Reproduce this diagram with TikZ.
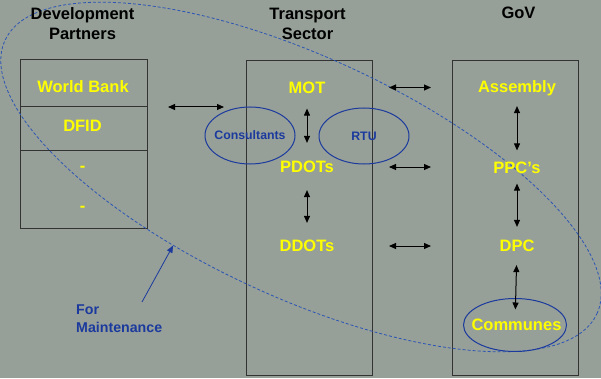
\documentclass[tikz,border=0pt]{standalone}
\usepackage{fontspec}
\setmainfont{Liberation Sans}
\usepackage{xcolor}
\usepackage{tikz}
\usetikzlibrary{arrows.meta, positioning, shapes.geometric}

\definecolor{slide}{RGB}{150,160,152}
\definecolor{ink}{RGB}{28,58,158}
\definecolor{dashink}{RGB}{45,85,180}
\definecolor{lemon}{RGB}{255,255,0}

\begin{document}
\begin{tikzpicture}[x=1pt,y=1pt,>={Triangle[length=7pt,width=6pt]},
        head/.style={font=\fontsize{16.5}{20}\selectfont\bfseries,align=center,inner sep=0pt},
        item/.style={font=\fontsize{16.5}{20}\selectfont\bfseries,text=lemon,inner sep=0pt,text height=11.8pt,text depth=0pt},
        cell/.style={draw=black!80,line width=1pt,minimum width=127pt,inner sep=0pt,outer sep=0pt},
        bubble/.style={ellipse,draw=ink,line width=1pt,inner sep=0pt},
        small/.style={font=\fontsize{12.3}{14}\selectfont\bfseries,text=ink,inner sep=0pt,text height=8.8pt,text depth=0pt},
        link/.style={<->,line width=1pt},]

    \fill[slide] (0,0) rectangle (601,378);
    \useasboundingbox (0,0) rectangle (601,378);

    % columns
    \node[cell, minimum height=47pt, anchor=north] (wbcell) at (83.5,318) {};
    \node[cell, minimum height=43pt, below=0pt of wbcell] (dfidcell) {};
    \node[cell, minimum height=78pt, below=0pt of dfidcell] (restcell) {};
    \node[cell, minimum width=126pt, minimum height=314pt] (ts) at (309,160) {};
    \node[cell, minimum width=126pt, minimum height=314pt] (gov) at (515,160) {};

    % maintenance loop
    \node[ellipse, draw=dashink, dash pattern=on 3pt off 2pt, line width=0.8pt, inner sep=0pt,
          minimum width=652pt, minimum height=240pt, rotate=-24.8] (loop) at (301,201) {};

    \node[head] (dphead) at (82.5,354.5) {Development\\Partners};
    \node[head] (tshead) at (307.5,354.5) {Transport\\Sector};
    \node[head] (govhead) at (518.5,365) {GoV};

    \node[item] (WB) at (83,291) {World Bank};
    \node[item] (DFID) at (82.5,252) {DFID};
    \node[item] (gapA) at (82.5,212.4) {-};
    \node[item] (gapB) at (82.5,172.4) {-};
    \node[item] (MOT) at (307,290.5) {MOT};
    \node[item] (PDOTs) at (307,211) {PDOTs};
    \node[item] (DDOTs) at (307,132) {DDOTs};
    \node[item] (Assembly) at (517,291) {Assembly};
    \node[item] (PPCs) at (517,210.5) {PPC’s};
    \node[item] (DPC) at (517,132) {DPC};

    \node[bubble, minimum width=90pt, minimum height=57pt, label={[small]center:Consultants}] (Consultants) at (250,242.5) {};
    \node[bubble, minimum width=90pt, minimum height=56pt, label={[small]center:RTU}] (RTU) at (364,242) {};
    \node[bubble, minimum width=103pt, minimum height=53pt, label={[item,xshift=1.5pt]center:Communes}] (Communes) at (515,53) {};

    \node[font=\fontsize{14.2}{18}\selectfont\bfseries, text=ink, align=left, inner sep=0pt, anchor=west] (mnt) at (76,59) {For\\Maintenance};
    \coordinate (tail) at (142,76);

    \path[link] (wbcell.south east) edge[shorten <=21pt, shorten >=22pt] (wbcell.south -| ts.west);
    \path[link, shorten <=17pt, shorten >=21pt]
          (MOT -| ts.east) edge (MOT -| gov.west)
          (PDOTs -| ts.east) edge (PDOTs -| gov.west)
          (DDOTs -| ts.east) edge (DDOTs -| gov.west);
    \path[link] (MOT) edge[shorten <=15pt, shorten >=18pt] (PDOTs)
                (PDOTs) edge[shorten <=17pt, shorten >=17pt] (DDOTs)
                (Assembly) edge[shorten <=13pt, shorten >=11pt] (PPCs)
                (PPCs) edge[shorten <=10pt, shorten >=13pt] (DPC)
                (DPC) edge[shorten <=13pt, shorten >=-11.5pt] (Communes);
    \draw[->, draw=ink, line width=0.8pt] (tail) -- (loop.233.8);
\end{tikzpicture}
\end{document}
